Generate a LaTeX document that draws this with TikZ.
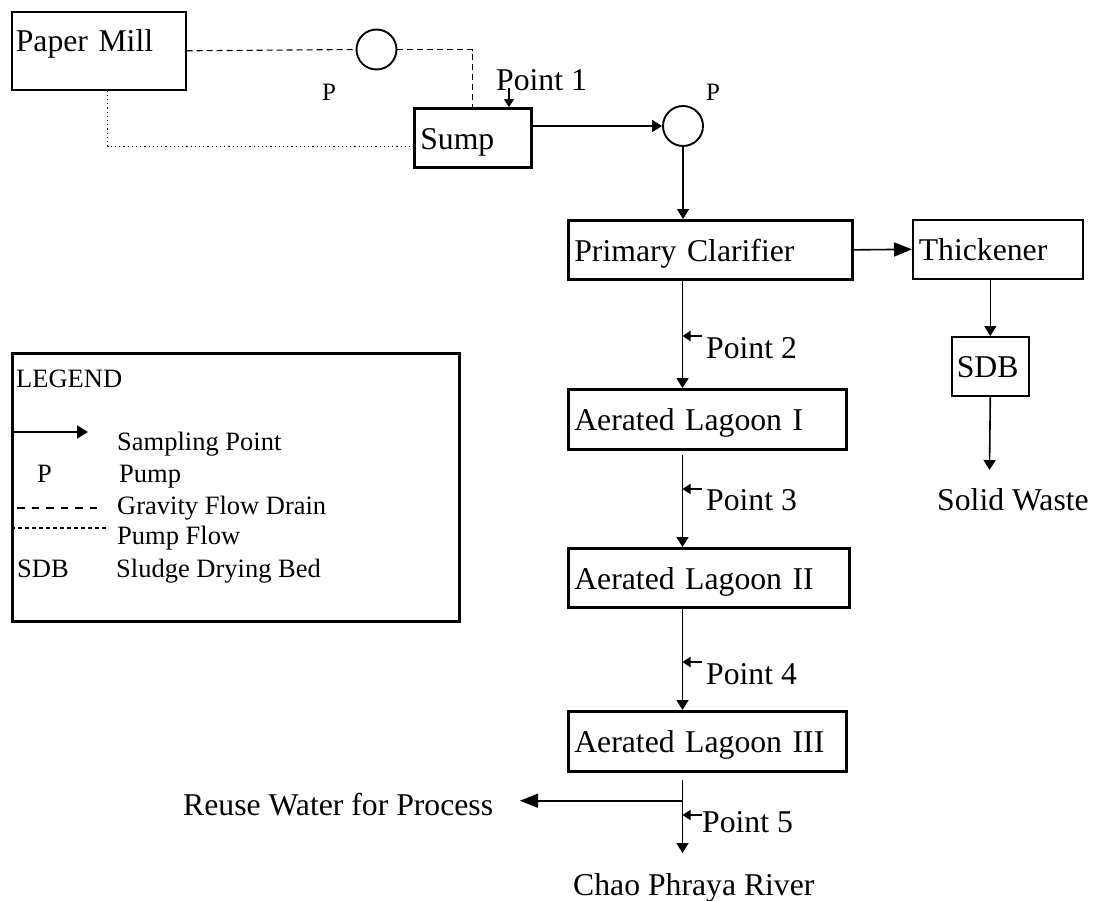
\documentclass[tikz,border=0pt]{standalone}
\usepackage{fontspec}
\setmainfont{Liberation Serif}
\usetikzlibrary{arrows.meta,calc}
\begin{document}
\begin{tikzpicture}[x=1pt,y=-1pt,
  every node/.style={font=\fontsize{31.7}{36}\selectfont},
  thickbox/.style={draw, line width=2.7pt, rectangle, anchor=north west, inner xsep=6pt, inner ysep=0pt, align=left, text height=30pt, text depth=7pt},
  thinbox/.style={draw, line width=1.6pt, rectangle, anchor=north west, inner xsep=6pt, inner ysep=0pt, align=left, text height=30pt, text depth=7pt},
  pump/.style={draw, circle, line width=1.9pt, minimum size=40pt, inner sep=0pt},
  lbl/.style={anchor=base west, inner sep=0pt},
  plbl/.style={anchor=base west, inner sep=0pt, font=\fontsize{25}{30}\selectfont},
  ltxt/.style={anchor=base west, inner sep=0pt, font=\fontsize{26.5}{30}\selectfont},
  flow/.style={line width=1.6pt, -{Triangle[length=10pt,width=12pt]}},
  bigflow/.style={line width=1.6pt, -{Triangle[length=18pt,width=14pt]}},
  samp/.style={line width=1.6pt, -{Triangle[length=8pt,width=10pt]}},
  legarrow/.style={line width=1.8pt, -{Triangle[length=11pt,width=13pt]}},
  pumpline/.style={line width=1.1pt, dash pattern=on 6pt off 4pt},
  gravline/.style={line width=1.1pt, dash pattern=on 1.2pt off 3pt},
  gdash/.style={line width=1.1pt, dash pattern=on 7.5pt off 7pt},
  pdash/.style={line width=1.1pt, dash pattern=on 4pt off 3pt}
]
\useasboundingbox (0,0) rectangle (1097,900);

% main boxes
\node[thinbox, inner xsep=4pt, text width=166pt, minimum height=78pt, text depth=28pt] (pm) at (11,11) {Paper Mill};
\node[pump] (p1) at (376.5,49.5) {};
\node[thickbox, text width=105pt, minimum height=59pt] (sump) at (413,107) {Sump};
\node[pump] (p2) at (683,126) {};
\node[thickbox, text width=272pt, minimum height=59pt] (pc) at (567,219) {Primary Clarifier};
\node[thinbox, text width=158pt, minimum height=59pt] (th) at (912,219) {Thickener};
\node[thinbox, inner xsep=5pt, text width=67pt, minimum height=59pt] (sdb) at (951,336) {SDB};
\node[thickbox, text width=266pt, minimum height=60pt] (al1) at (567,388) {Aerated Lagoon I};
\node[thickbox, text width=269pt, minimum height=59pt] (al2) at (567,547) {Aerated Lagoon II};
\node[thickbox, text width=266pt, minimum height=60pt] (al3) at (567,710) {Aerated Lagoon III};

% labels
\node[plbl] (pl1) at (322,100) {P};
\node[plbl] (pl2) at (706,100) {P};
\node[lbl] (pt1) at (496,90) {Point 1};
\node[lbl] (pt2) at (706,358) {Point 2};
\node[lbl] (pt3) at (706,510) {Point 3};
\node[lbl] (pt4) at (706,684) {Point 4};
\node[lbl] (pt5) at (702,832) {Point 5};
\node[lbl] (sw) at (937,510) {Solid Waste};
\node[lbl] (reuse) at (183,815) {Reuse Water for Process};
\node[lbl] (river) at (573,895) {Chao Phraya River};

% coordinates
\coordinate (sx) at (682.5,0);
\coordinate (s1) at (509,88);
\coordinate (a2) at (702,336);
\coordinate (a3) at (702,489);
\coordinate (a4) at (702,662);
\coordinate (a5) at (702,815);
\coordinate (swend) at (989.5,470);
\coordinate (rvend) at (682.5,853);
\coordinate (branch) at (682.5,800.7);
\coordinate (reuseend) at (520,800.7);

% connectors
\draw[pumpline] (pm.east) -- (p1.west);
\draw[pumpline] (p1.east) -| (sump.north);
\draw[gravline] ([xshift=9pt]pm.south) |- ([yshift=-8.5pt]sump.west);
\draw[flow] (sump.east |- p2.west) -- (p2.west);
\draw[flow] (p2.south) -- (p2.south |- pc.north);
\draw[bigflow] (pc.east) -- (th.west);
\draw[flow] (sdb.north |- th.south) -- (sdb.north);
\draw[flow] (sdb.south) -- (swend);
\draw[flow] (pc.south -| sx) -- (al1.north -| sx);
\draw[flow, shorten <=4pt] (al1.south -| sx) -- (al2.north -| sx);
\draw[flow] (al2.south -| sx) -- (al3.north -| sx);
\draw[flow, shorten <=7pt] (al3.south -| sx) -- (rvend);
\draw[bigflow] (branch) -- (reuseend);

% sampling points
\draw[samp] (s1) -- (s1 |- sump.north);
\draw[samp] (a2) -- (a2 -| sx);
\draw[samp] (a3) -- (a3 -| sx);
\draw[samp] (a4) -- (a4 -| sx);
\draw[samp] (a5) -- (a5 -| sx);

% legend
\node[draw, line width=2.7pt, rectangle, anchor=north west, inner sep=0pt, minimum width=447pt, minimum height=268pt] (leg) at (11,352) {};
\node[ltxt] (lgt) at (16,387) {LEGEND};
\coordinate (la1) at (11,432);
\coordinate (la2) at (88,432);
\draw[legarrow] (la1) -- (la2);
\node[ltxt] (l1) at (117,450) {Sampling Point};
\node[ltxt] (l2a) at (37,482) {P};
\node[ltxt] (l2) at (119,482) {Pump};
\coordinate (gd1) at (17,508);
\coordinate (gd2) at (102,508);
\draw[gdash] (gd1) -- (gd2);
\node[ltxt] (l3) at (117,514) {Gravity Flow Drain};
\coordinate (pd1) at (11,528);
\coordinate (pd2) at (107,528);
\draw[pdash] (pd1) -- (pd2);
\node[ltxt] (l4) at (117,544) {Pump Flow};
\node[ltxt] (l5a) at (17,577) {SDB};
\node[ltxt] (l5) at (116,577) {Sludge Drying Bed};
\end{tikzpicture}
\end{document}
